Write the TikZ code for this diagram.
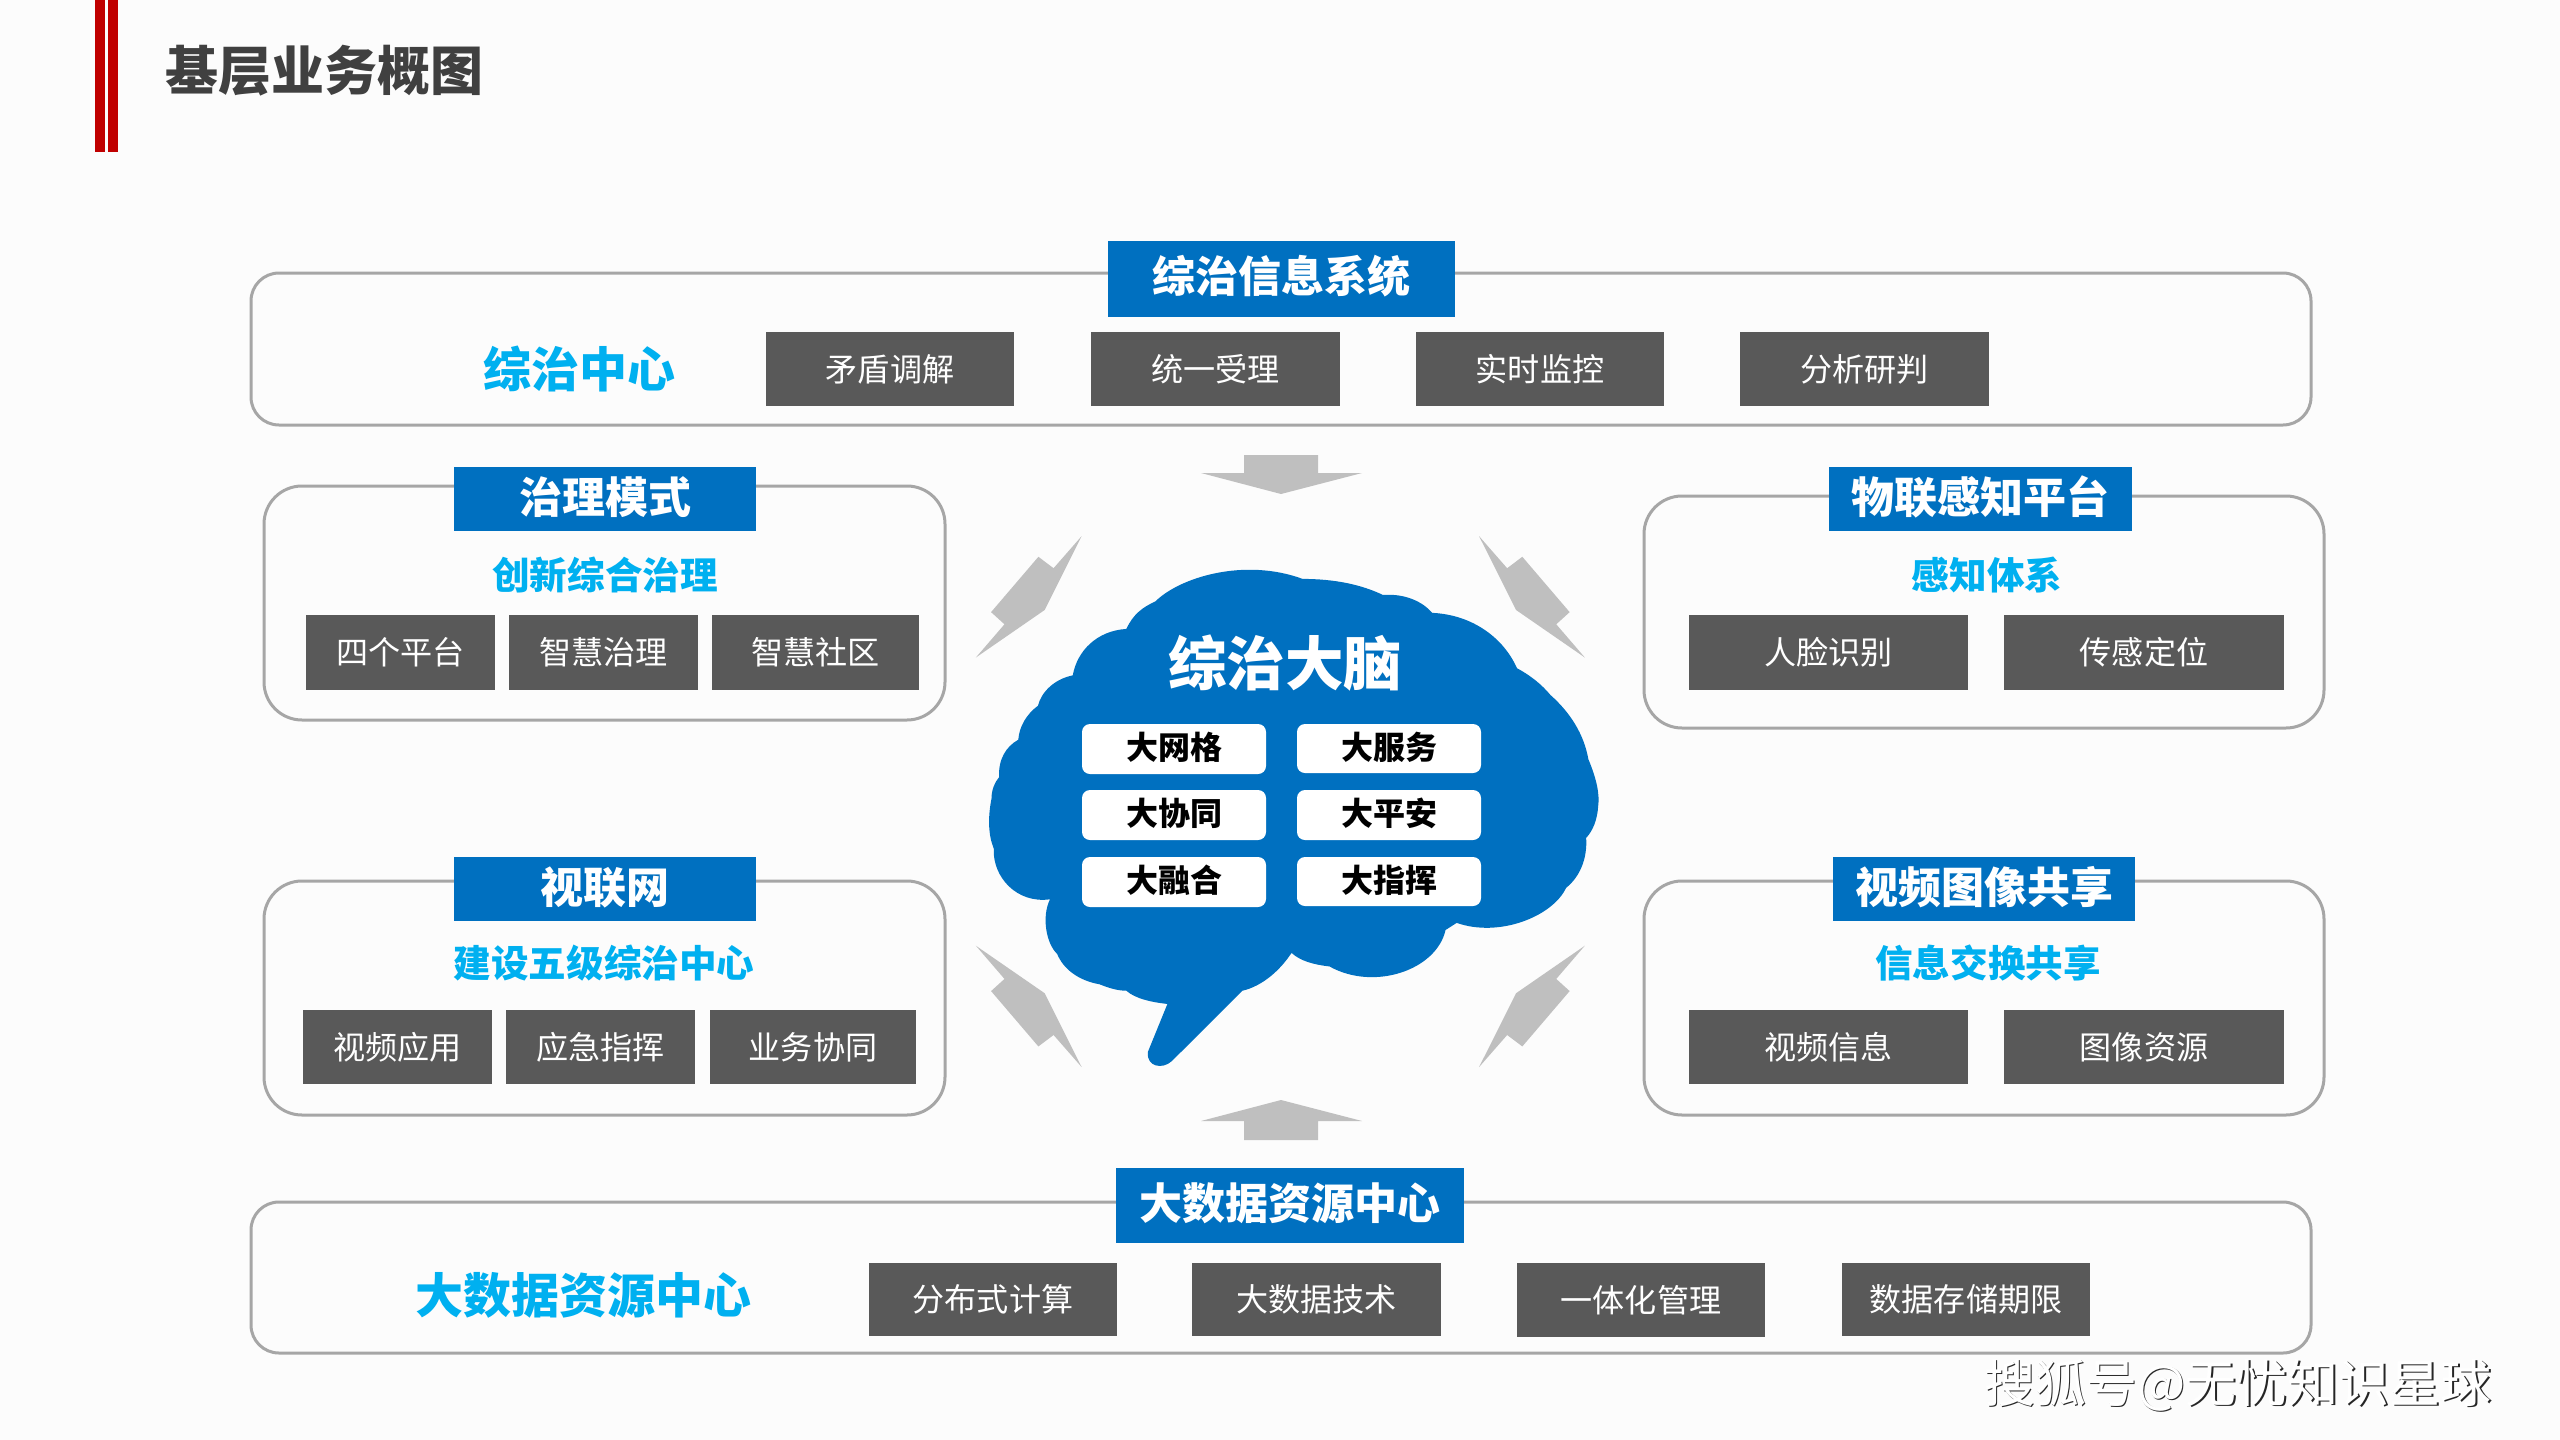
\documentclass[tikz,border=0pt]{standalone}
\usepackage{fontspec}
\setmainfont{Noto Sans CJK SC}
\definecolor{pagebg}{HTML}{FCFCFC}
\definecolor{zhblue}{HTML}{0070C0}
\definecolor{zhcyan}{HTML}{00B0F0}
\definecolor{zhgray}{HTML}{595959}
\definecolor{zhline}{HTML}{A6A6A6}
\definecolor{zharrow}{HTML}{BFBFBF}
\definecolor{zhred}{HTML}{C00000}
\definecolor{zhtitle}{HTML}{404040}
\newcommand{\zsz}[1]{\fontsize{#1}{#1}\selectfont}
\newcommand{\zup}[2]{\raisebox{#1pt}[\height][\depth]{#2}}
\newcommand{\rectnode}[7]{% style, name, x1, x2, y1, y2, text
  \node[#1, minimum width={(#4-#3)*1pt}, minimum height={(#6-#5)*1pt}] (#2) at ({(#3+#4)/2},{(#5+#6)/2}) {#7};}
\tikzset{
  x=1pt,y=-1pt,
  base/.style={inner sep=0pt,outer sep=0pt,rectangle},
  frame/.style={base,draw=zhline,line width=3pt,rounded corners=#1},
  frame/.default=38pt,
  graybox/.style={base,fill=zhgray,text=white,font=\zsz{32.1}},
  headbox/.style={base,fill=zhblue,text=white,font=\zsz{43}\bfseries},
  pill/.style={base,fill=white,text=black,rounded corners=8pt,font=\zsz{32}\bfseries},
  subhead/.style={inner sep=0pt,text=zhcyan,font=\zsz{37.6}\bfseries},
  bighead/.style={inner sep=0pt,text=zhcyan,font=\zsz{48}\bfseries},
  bolt/.style={fill=zharrow},
  redbar/.style={base,fill=zhred},
}
\begin{document}
\begin{tikzpicture}
\useasboundingbox (0,0) rectangle (2560,1440);
\fill[pagebg] (0,0) rectangle (2560,1440);

% title
\rectnode{redbar}{barA}{95}{105}{0}{152}{}
\rectnode{redbar}{barB}{108}{118}{0}{152}{}
\node[inner sep=0pt,text=zhtitle,font=\zsz{53}\bfseries] (title) at (324,71) {基层业务概图};

% frames
\rectnode{frame=28pt}{topframe}{251}{2311}{273}{425}{}
\rectnode{frame=28pt}{botframe}{251}{2311}{1202}{1353}{}
\rectnode{frame}{tlframe}{264}{945}{486}{720}{}
\rectnode{frame}{trframe}{1644}{2324}{496}{728}{}
\rectnode{frame}{blframe}{264}{945}{881}{1115}{}
\rectnode{frame}{brframe}{1644}{2324}{881}{1115}{}

% top
\rectnode{headbox}{tophead}{1108}{1455}{241}{317}{\zup{2.5}{综治信息系统}}
\node[bighead] (topsub) at (579,369) {综治中心};
\rectnode{graybox}{t1}{766}{1014}{332}{406}{矛盾调解}
\rectnode{graybox}{t2}{1091}{1340}{332}{406}{统一受理}
\rectnode{graybox}{t3}{1416}{1664}{332}{406}{实时监控}
\rectnode{graybox}{t4}{1740}{1989}{332}{406}{分析研判}

% top-left
\rectnode{headbox}{tlhead}{454}{756}{467}{531}{\zup{2}{治理模式}}
\node[subhead] (tlsub) at (605,575) {创新综合治理};
\rectnode{graybox}{tl1}{306}{495}{615}{690}{四个平台}
\rectnode{graybox}{tl2}{509}{698}{615}{690}{智慧治理}
\rectnode{graybox}{tl3}{712}{919}{615}{690}{智慧社区}

% top-right
\rectnode{headbox}{trhead}{1829}{2132}{467}{531}{\zup{2}{物联感知平台}}
\node[subhead] (trsub) at (1987,575) {感知体系};
\rectnode{graybox}{tr1}{1689}{1968}{615}{690}{人脸识别}
\rectnode{graybox}{tr2}{2004}{2284}{615}{690}{传感定位}

% bottom-left
\rectnode{headbox}{blhead}{454}{756}{857}{921}{\zup{2}{视联网}}
\node[subhead] (blsub) at (604,963) {建设五级综治中心};
\rectnode{graybox}{bl1}{303}{492}{1010}{1084}{视频应用}
\rectnode{graybox}{bl2}{506}{695}{1010}{1084}{应急指挥}
\rectnode{graybox}{bl3}{710}{916}{1010}{1084}{业务协同}

% bottom-right
\rectnode{headbox}{brhead}{1833}{2135}{857}{921}{\zup{2}{视频图像共享}}
\node[subhead] (brsub) at (1988,963) {信息交换共享};
\rectnode{graybox}{br1}{1689}{1968}{1010}{1084}{视频信息}
\rectnode{graybox}{br2}{2004}{2284}{1010}{1084}{图像资源}

% bottom
\rectnode{headbox}{bothead}{1116}{1464}{1168}{1243}{\zup{2}{大数据资源中心}}
\node[bighead] (botsub) at (583,1295) {大数据资源中心};
\rectnode{graybox}{b1}{869}{1117}{1263}{1336}{分布式计算}
\rectnode{graybox}{b2}{1192}{1441}{1263}{1336}{大数据技术}
\rectnode{graybox}{b3}{1517}{1765}{1263}{1337}{一体化管理}
\rectnode{graybox}{b4}{1842}{2090}{1263}{1336}{数据存储期限}

% block arrows
\fill[bolt] (1244,455) -- (1318,455) -- (1318,473) -- (1362,473) -- (1281,494) -- (1201,473) -- (1244,473) -- cycle;
\fill[bolt] (1244,1140) -- (1318,1140) -- (1318,1121) -- (1362,1121) -- (1281,1100) -- (1201,1121) -- (1244,1121) -- cycle;

% brain and bolts in zoom coordinates
\begin{scope}[x=0.44643pt,y=-0.35714pt,shift={(950pt,-520pt)}]
\fill[bolt] (295,45)--(232,135)--(198,103)--(92,258)--(122,292)--(58,385)--(212,252)--cycle;
\fill[bolt] (1185,45)--(1248,135)--(1282,103)--(1388,258)--(1358,292)--(1422,385)--(1268,252)--cycle;
\fill[bolt] (295,1532)--(232,1442)--(198,1474)--(92,1319)--(122,1285)--(58,1192)--(212,1325)--cycle;
\fill[bolt] (1185,1532)--(1248,1442)--(1282,1474)--(1388,1319)--(1358,1285)--(1422,1192)--(1268,1325)--cycle;
\fill[zhblue] (395,305)
 .. controls (410,265) and (430,245) .. (460,228)
 .. controls (515,160) and (660,105) .. (790,165)
 .. controls (860,165) and (920,180) .. (970,210)
 .. controls (1020,205) and (1060,230) .. (1080,260)
 .. controls (1170,265) and (1240,330) .. (1270,415)
 .. controls (1300,435) and (1325,460) .. (1345,490)
 .. controls (1390,540) and (1420,600) .. (1430,670)
 .. controls (1450,730) and (1455,770) .. (1452,800)
 .. controls (1450,840) and (1440,870) .. (1425,890)
 .. controls (1428,950) and (1410,1000) .. (1380,1030)
 .. controls (1350,1110) and (1230,1170) .. (1135,1128)
 -- (1110,1148)
 .. controls (1090,1260) and (950,1320) .. (850,1250)
 .. controls (815,1245) and (785,1235) .. (765,1212)
 .. controls (740,1260) and (700,1305) .. (655,1318)
 -- (497,1515)
 .. controls (475,1540) and (440,1530) .. (443,1490)
 -- (487,1355)
 .. controls (450,1350) and (415,1340) .. (395,1318)
 .. controls (375,1318) and (355,1310) .. (335,1300)
 .. controls (290,1290) and (255,1260) .. (240,1215)
 .. controls (215,1185) and (205,1110) .. (224,1062)
 .. controls (150,1075) and (95,1000) .. (98,920)
 .. controls (85,880) and (85,830) .. (93,780)
 .. controls (93,755) and (100,735) .. (110,720)
 .. controls (108,670) and (125,635) .. (153,615)
 .. controls (155,580) and (170,545) .. (197,520)
 .. controls (205,480) and (235,445) .. (275,435)
 .. controls (285,365) and (330,310) .. (395,305) -- cycle;
\end{scope}

\node[inner sep=0pt,text=white,font=\zsz{58.5}\bfseries] (brainhead) at (1285,663) {综治大脑};
\rectnode{pill}{p1}{1082}{1266}{724}{774}{\zup{1.5}{大网格}}
\rectnode{pill}{p2}{1297}{1481}{724}{773}{\zup{1.5}{大服务}}
\rectnode{pill}{p3}{1082}{1266}{790}{840}{\zup{1.5}{大协同}}
\rectnode{pill}{p4}{1297}{1481}{790}{840}{\zup{1.5}{大平安}}
\rectnode{pill}{p5}{1082}{1266}{857}{907}{\zup{1.5}{大融合}}
\rectnode{pill}{p6}{1297}{1481}{857}{906}{\zup{1.5}{大指挥}}

% watermark
\node[inner sep=0pt,text=black!85,font=\zsz{51}] (markshadow) at (2239.5,1386.5) {搜狐号@无忧知识星球};
\node[inner sep=0pt,text=white,font=\zsz{51}] (mark) at (2238,1385) {搜狐号@无忧知识星球};
\end{tikzpicture}
\end{document}
